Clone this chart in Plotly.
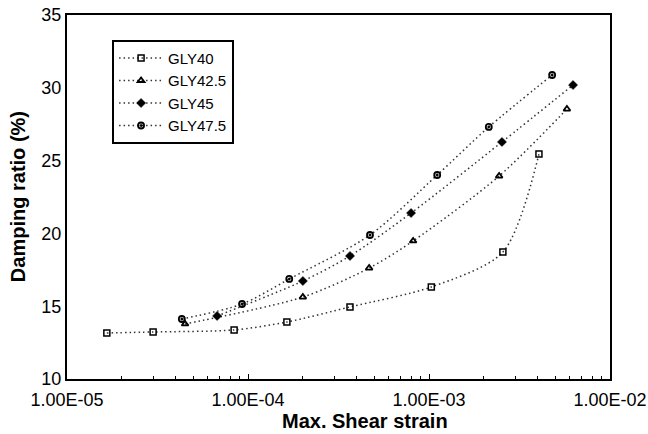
import plotly.graph_objects as go

# Data
gly40_x = [1.66e-5, 2.99e-5, 8.38e-5, 1.64e-4, 3.66e-4, 1.03e-3, 2.56e-3, 4.05e-3]
gly40_y = [13.16, 13.23, 13.37, 13.91, 14.95, 16.32, 18.72, 25.45]

gly425_x = [4.49e-5, 2.01e-4, 4.67e-4, 8.17e-4, 2.44e-3, 5.78e-3]
gly425_y = [13.78, 15.63, 17.62, 19.48, 23.94, 28.54]

gly45_x = [6.75e-5, 2.01e-4, 3.66e-4, 7.96e-4, 2.53e-3, 6.25e-3]
gly45_y = [14.33, 16.73, 18.45, 21.40, 26.28, 30.19]

gly475_x = [4.31e-5, 9.27e-5, 1.69e-4, 4.72e-4, 1.11e-3, 2.14e-3, 4.79e-3]
gly475_y = [14.12, 15.15, 16.87, 19.89, 24.01, 27.31, 30.88]

series_names = ["GLY40", "GLY42.5", "GLY45", "GLY47.5"]
x_tickvals = [1e-5, 1e-4, 1e-3, 1e-2]
x_ticktext = ["1.00E-05", "1.00E-04", "1.00E-03", "1.00E-02"]
y_tickvals = [10, 15, 20, 25, 30, 35]
x_title = "Max. Shear strain"
y_title = "Damping ratio (%)"

fig = go.Figure()
line_style = dict(color="#333333", width=1.5, dash="1.5px,3px", shape="spline", smoothing=0.8)
marker_styles = [
    dict(symbol="square-open", size=6, color="black", line=dict(width=1.5, color="black")),
    dict(symbol="triangle-up-open", size=6, color="black", line=dict(width=1.8, color="black")),
    dict(symbol="diamond", size=7, color="black", line=dict(width=0.5, color="black")),
    dict(symbol="circle-open-dot", size=6, color="black", line=dict(width=1.8, color="black")),
]
for name, xs, ys, ms in zip(series_names,
                            [gly40_x, gly425_x, gly45_x, gly475_x],
                            [gly40_y, gly425_y, gly45_y, gly475_y],
                            marker_styles):
    fig.add_trace(go.Scatter(x=xs, y=ys, name=name, mode="lines+markers",
                             line=line_style, marker=ms))

fig.update_layout(
    width=648, height=434,
    margin=dict(l=67, r=38, t=15, b=55),
    paper_bgcolor="white", plot_bgcolor="white",
    font=dict(family="Liberation Sans, Arial, sans-serif", color="black", size=18),
    showlegend=True,
    legend=dict(x=0.083, y=0.932, xanchor="left", yanchor="top",
                bordercolor="black", borderwidth=2, bgcolor="white",
                font=dict(size=15), tracegroupgap=0, itemwidth=44),
    annotations=[
        dict(text="<b>" + x_title + "</b>", xref="paper", yref="paper",
             x=0.549, y=-0.115, xanchor="center", yanchor="middle",
             showarrow=False, font=dict(size=20)),
        dict(text="<b>" + y_title + "</b>", xref="paper", yref="paper",
             x=-0.090, y=0.5, xanchor="center", yanchor="middle", textangle=-90,
             showarrow=False, font=dict(size=20)),
    ],
)
fig.update_xaxes(type="log", range=[-5, -2], tickvals=x_tickvals, ticktext=x_ticktext,
                 automargin=False,
                 showgrid=False, zeroline=False, showline=True, linecolor="black", linewidth=2,
                 mirror=True, ticks="inside", ticklen=5, tickcolor="black", tickwidth=1,
                 ticklabelstandoff=3,
                 minor=dict(ticks="inside", ticklen=3, tickcolor="black", tickwidth=1,
                            dtick="D1", showgrid=False))
fig.update_yaxes(range=[10, 35], tickvals=y_tickvals, showgrid=False, zeroline=False,
                 automargin=False,
                 showline=True, linecolor="black", linewidth=2, mirror=True, ticks="")

fig.write_html("out.html")
